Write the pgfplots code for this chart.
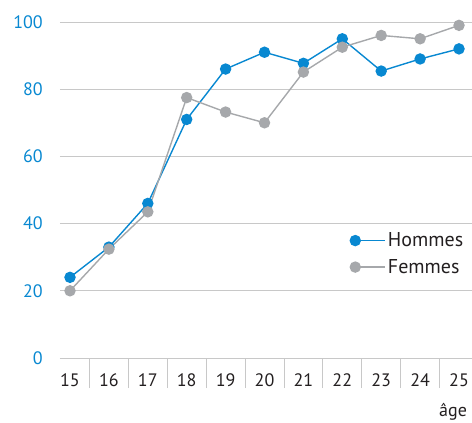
\documentclass[border=0pt]{standalone}
\usepackage{fontspec}
\setmainfont{PT Sans}
\usepackage{pgfplots}
\pgfplotsset{compat=1.18}
\definecolor{hblue}{RGB}{8,136,209}
\definecolor{fgray}{RGB}{166,168,171}
\definecolor{gridc}{RGB}{200,200,200}
\definecolor{txt}{RGB}{35,31,32}
\begin{document}
\begin{tikzpicture}
\begin{axis}[
  at={(60pt,65pt)}, anchor=south west,
  scale only axis, width=412pt, height=336pt,
  xmin=14.743, xmax=25.334, ymin=0, ymax=100,
  clip=false,
  axis line style={draw=none},
  tick pos=left,
  ymajorgrids, grid style={gridc, line width=0.8pt},
  ytick={0,20,40,60,80,100},
  xtick={15,...,25},
  major tick length=0pt,
  /pgf/number format/assume math mode=true,
  font=\fontsize{18}{21}\selectfont,
  yticklabel style={text=hblue, anchor=east, inner sep=0pt, xshift=-17pt},
  xticklabel style={text=txt, anchor=base, inner sep=0pt, yshift=-29pt},
  extra x ticks={15.5,16.5,...,24.5},
  extra x tick labels={},
  extra x tick style={major tick length=30pt, tick align=outside, tick style={gridc, line width=0.8pt}, grid=none},
  xlabel={âge},
  xlabel style={at={(rel axis cs:0,0)}, anchor=base west, xshift=379pt, yshift=-59pt, text=txt, inner sep=0pt},
  legend style={draw=none, fill=none, at={(axis cs:22.20,31.0)}, anchor=west, inner sep=0pt, row sep=7pt,
    font=\fontsize{20}{22}\selectfont, text=txt},
  legend cell align=left,
  legend image code/.code={\draw[mark repeat=2, mark phase=1, #1] plot coordinates {(0pt,0pt) (30pt,0pt)};},
]
\draw[gridc, line width=0.8pt] (rel axis cs:0,0) -- (rel axis cs:1,0);
\addplot[hblue, line width=1.4pt, mark=*, mark size=5pt, mark options={fill=hblue, draw=hblue}]
  coordinates {(15,24) (16,33) (17,46) (18,71) (19,86) (20,91) (21,87.7) (22,95) (23,85.4) (24,89) (25,92)};
\addlegendentry{Hommes}
\addplot[fgray, line width=1.4pt, mark=*, mark size=5pt, mark options={fill=fgray, draw=fgray}]
  coordinates {(15,20) (16,32.4) (17,43.5) (18,77.5) (19,73.2) (20,70) (21,85.1) (22,92.5) (23,96) (24,95) (25,99)};
\addlegendentry{Femmes}
\end{axis}
\pgfresetboundingbox
\useasboundingbox (0,0) rectangle (472pt,423pt);
\end{tikzpicture}
\end{document}
